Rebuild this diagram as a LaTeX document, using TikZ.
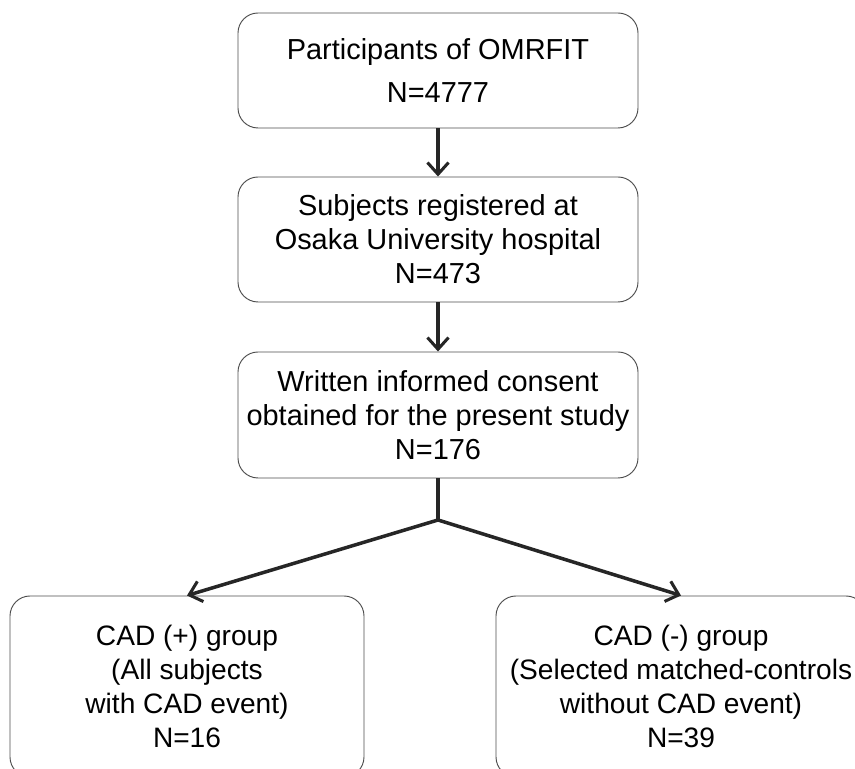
\documentclass[tikz,border=0pt]{standalone}
\usepackage{fontspec}
\setmainfont{Liberation Sans}
\usetikzlibrary{shapes.geometric, arrows.meta}
\tikzstyle{flowbox} = [rectangle, rounded corners=0.6cm,
minimum width=12cm,
text centered, align=center,
draw=black!70, line width=0.8pt,
font=\fontsize{24.7}{29}\selectfont]
\tikzstyle{groupbox} = [flowbox, minimum height=5.43cm, font=\fontsize{24}{29}\selectfont]
\tikzstyle{arrow} = [draw=black!85, line width=3pt, -{Straight Barb[length=10pt,width=18pt,line width=2.6pt]}]

\begin{document}
\begin{tikzpicture}[node distance=5cm]
        \useasboundingbox (0,0) rectangle (25.65,23.07);
        \node (omrfit) [flowbox, minimum height=3.45cm] at (13.14,20.955) {Participants of OMRFIT\\[8pt]N=4777};
        \node (osaka) [flowbox, minimum height=3.75cm, below of=omrfit, yshift=-0.07cm] {Subjects registered at\\Osaka University hospital\\N=473};
        \node (consent) [flowbox, minimum height=3.78cm, below of=osaka, yshift=-0.265cm] {Written informed consent\\obtained for the present study\\N=176};
        \coordinate (split) at (13.14,7.47);
        \node (cadpos) [groupbox, minimum width=10.62cm, below of=consent, xshift=-7.53cm, yshift=-3.145cm] {CAD (+) group\\(All subjects\\with CAD event)\\N=16};
        \node (cadneg) [groupbox, minimum width=11.1cm, below of=consent, xshift=7.29cm, yshift=-3.145cm] {CAD (-) group\\(Selected matched-controls\\without CAD event)\\N=39};
        \draw [arrow] (omrfit) -- (osaka);
        \draw [arrow] (osaka) -- (consent);
        \draw [draw=black!85, line width=3pt] (consent) -- (split);
        \draw [arrow] (split) -- (cadpos.north);
        \draw [arrow] (split) -- (cadneg.north);
    \end{tikzpicture}
\end{document}
